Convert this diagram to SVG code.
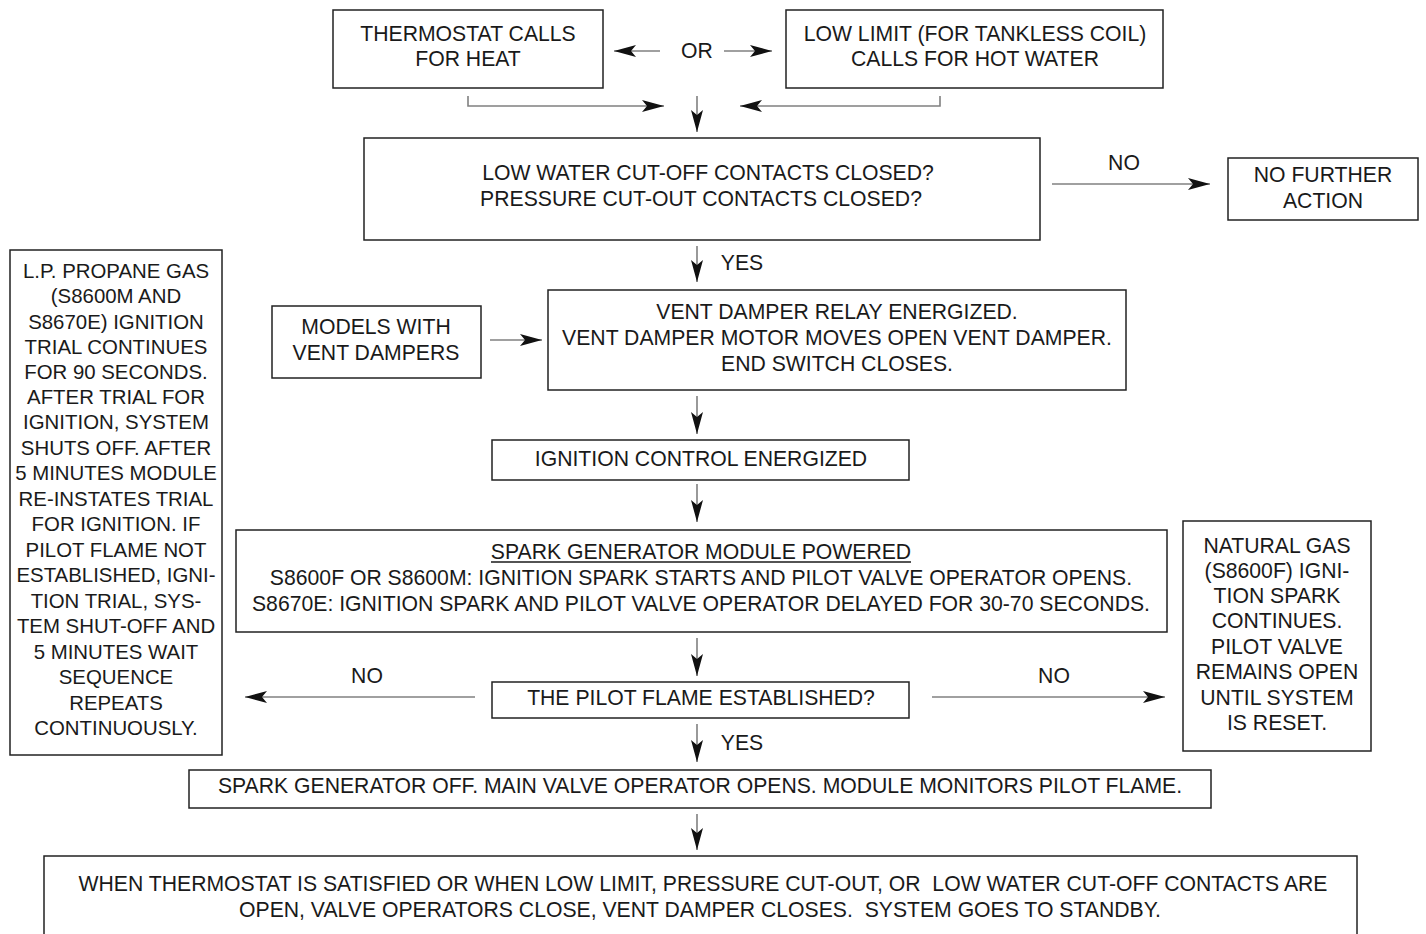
<svg xmlns="http://www.w3.org/2000/svg" width="1426" height="934" viewBox="0 0 1426 934">
<defs>
<marker id="ah" markerUnits="userSpaceOnUse" markerWidth="24" markerHeight="14" refX="22" refY="6.5" orient="auto">
<path d="M0,0.5 L22,6.5 L0,12.5 L5,6.5 Z" fill="#111"/>
</marker>
<style>
.box{fill:#fff;stroke:#222;stroke-width:1.5}
.t{font-family:"Liberation Sans",Arial,sans-serif;font-size:21.2px;fill:#1a1a1a;text-anchor:middle;white-space:pre}
.s{font-size:20.4px}
.ca{fill:none;stroke:#808080;stroke-width:1.6;marker-end:url(#ah)}
</style>
</defs>
<rect width="1426" height="934" fill="#fff"/>

<g id="connectors">
<line class="ca" x1="660" y1="51" x2="614" y2="51"/>
<line class="ca" x1="724" y1="51" x2="772" y2="51"/>
<polyline class="ca" points="468,96 468,106 664,106"/>
<polyline class="ca" points="940,96 940,106 740,106"/>
<line class="ca" x1="697" y1="96" x2="697" y2="132"/>
<line class="ca" x1="1052" y1="184" x2="1210" y2="184"/>
<text class="t" x="1124" y="170">NO</text>
<line class="ca" x1="697" y1="246" x2="697" y2="282"/>
<text class="t" x="742" y="270">YES</text>
<line class="ca" x1="490" y1="340" x2="542" y2="340"/>
<line class="ca" x1="697" y1="396" x2="697" y2="434"/>
<line class="ca" x1="697" y1="484" x2="697" y2="522"/>
<line class="ca" x1="697" y1="638" x2="697" y2="676"/>
<line class="ca" x1="475" y1="697" x2="245" y2="697"/>
<text class="t" x="367" y="683">NO</text>
<line class="ca" x1="932" y1="697" x2="1165" y2="697"/>
<text class="t" x="1054" y="683">NO</text>
<line class="ca" x1="697" y1="724" x2="697" y2="762"/>
<text class="t" x="742" y="750">YES</text>
<line class="ca" x1="697" y1="814" x2="697" y2="850"/>
</g>

<g id="or-label"><text class="t" x="697" y="58">OR</text></g>

<g id="thermostat">
<rect class="box" x="333" y="10" width="270" height="78"/>
<text class="t" x="468" y="41">THERMOSTAT CALLS</text>
<text class="t" x="468" y="66">FOR HEAT</text>
</g>

<g id="low-limit">
<rect class="box" x="786" y="10" width="377" height="78"/>
<text class="t" x="975" y="41">LOW LIMIT (FOR TANKLESS COIL)</text>
<text class="t" x="975" y="66">CALLS FOR HOT WATER</text>
</g>

<g id="cutoff">
<rect class="box" x="364" y="138" width="676" height="102"/>
<text class="t" x="708" y="180">LOW WATER CUT-OFF CONTACTS CLOSED?</text>
<text class="t" x="701" y="206">PRESSURE CUT-OUT CONTACTS CLOSED?</text>
</g>

<g id="no-further">
<rect class="box" x="1228" y="158" width="190" height="62"/>
<text class="t" x="1323" y="182">NO FURTHER</text>
<text class="t" x="1323" y="208">ACTION</text>
</g>

<g id="models">
<rect class="box" x="272" y="306" width="209" height="72"/>
<text class="t" x="376" y="334">MODELS WITH</text>
<text class="t" x="376" y="360">VENT DAMPERS</text>
</g>

<g id="vent-relay">
<rect class="box" x="548" y="290" width="578" height="100"/>
<text class="t" x="837" y="319">VENT DAMPER RELAY ENERGIZED.</text>
<text class="t" x="837" y="345">VENT DAMPER MOTOR MOVES OPEN VENT DAMPER.</text>
<text class="t" x="837" y="371">END SWITCH CLOSES.</text>
</g>

<g id="ignition">
<rect class="box" x="492" y="440" width="417" height="40"/>
<text class="t" x="701" y="466">IGNITION CONTROL ENERGIZED</text>
</g>

<g id="spark">
<rect class="box" x="236" y="530" width="931" height="102"/>
<text class="t" x="701" y="559">SPARK GENERATOR MODULE POWERED</text>
<line x1="491" y1="562" x2="911" y2="562" stroke="#1a1a1a" stroke-width="1.3"/>
<text class="t" x="701" y="585">S8600F OR S8600M: IGNITION SPARK STARTS AND PILOT VALVE OPERATOR OPENS.</text>
<text class="t" x="701" y="611">S8670E: IGNITION SPARK AND PILOT VALVE OPERATOR DELAYED FOR 30-70 SECONDS.</text>
</g>

<g id="pilot">
<rect class="box" x="492" y="682" width="417" height="36"/>
<text class="t" x="701" y="705">THE PILOT FLAME ESTABLISHED?</text>
</g>

<g id="propane">
<rect class="box" x="10" y="250" width="212" height="505"/>
<text class="t s" x="116" y="278">L.P. PROPANE GAS</text>
<text class="t s" x="116" y="303">(S8600M AND</text>
<text class="t s" x="116" y="329">S8670E) IGNITION</text>
<text class="t s" x="116" y="354">TRIAL CONTINUES</text>
<text class="t s" x="116" y="379">FOR 90 SECONDS.</text>
<text class="t s" x="116" y="404">AFTER TRIAL FOR</text>
<text class="t s" x="116" y="429">IGNITION, SYSTEM</text>
<text class="t s" x="116" y="455">SHUTS OFF. AFTER</text>
<text class="t s" x="116" y="480">5 MINUTES MODULE</text>
<text class="t s" x="116" y="506">RE-INSTATES TRIAL</text>
<text class="t s" x="116" y="531">FOR IGNITION. IF</text>
<text class="t s" x="116" y="557">PILOT FLAME NOT</text>
<text class="t s" x="116" y="582">ESTABLISHED, IGNI-</text>
<text class="t s" x="116" y="608">TION TRIAL, SYS-</text>
<text class="t s" x="116" y="633">TEM SHUT-OFF AND</text>
<text class="t s" x="116" y="659">5 MINUTES WAIT</text>
<text class="t s" x="116" y="684">SEQUENCE</text>
<text class="t s" x="116" y="710">REPEATS</text>
<text class="t s" x="116" y="735">CONTINUOUSLY.</text>
</g>

<g id="natural">
<rect class="box" x="1183" y="521" width="188" height="230"/>
<text class="t" x="1277" y="553">NATURAL GAS</text>
<text class="t" x="1277" y="578">(S8600F) IGNI-</text>
<text class="t" x="1277" y="603">TION SPARK</text>
<text class="t" x="1277" y="628">CONTINUES.</text>
<text class="t" x="1277" y="654">PILOT VALVE</text>
<text class="t" x="1277" y="679">REMAINS OPEN</text>
<text class="t" x="1277" y="705">UNTIL SYSTEM</text>
<text class="t" x="1277" y="730">IS RESET.</text>
</g>

<g id="spark-off">
<rect class="box" x="189" y="770" width="1022" height="38"/>
<text class="t" x="700" y="793">SPARK GENERATOR OFF. MAIN VALVE OPERATOR OPENS. MODULE MONITORS PILOT FLAME.</text>
</g>

<g id="standby">
<rect class="box" x="44" y="856" width="1313" height="90"/>
<text class="t" x="703" y="891">WHEN THERMOSTAT IS SATISFIED OR WHEN LOW LIMIT, PRESSURE CUT-OUT, OR  LOW WATER CUT-OFF CONTACTS ARE</text>
<text class="t" x="700" y="917">OPEN, VALVE OPERATORS CLOSE, VENT DAMPER CLOSES.  SYSTEM GOES TO STANDBY.</text>
</g>
</svg>
